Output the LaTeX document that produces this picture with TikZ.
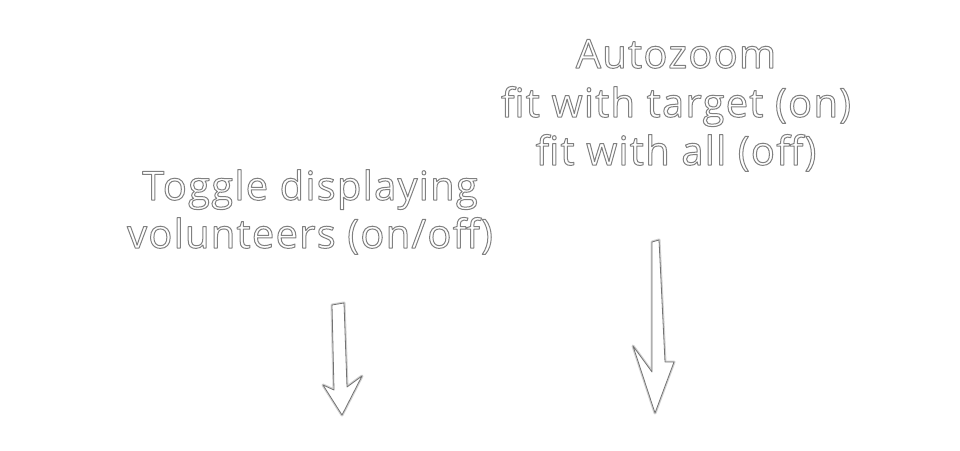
\documentclass[tikz,border=0pt]{standalone}
\usepackage{fontspec}
\setmainfont{Open Sans}[LetterSpace=3]
\newcommand\outl[1]{{\color{white}\special{pdf:literal direct 0.5 G 1.0 w 1 j 2 Tr}#1\special{pdf:literal direct 0 Tr}}}
\tikzset{
  lbl/.style={anchor=base, inner sep=0pt, font=\fontsize{40}{46}\selectfont},
  arrowshape/.style={draw=black!55, line width=0.8pt, fill=white, line join=round},
  arrowshadow/.style={draw=black!18, line width=3pt, line join=round}
}
\begin{document}
\begin{tikzpicture}[x=1pt,y=-1pt]
\useasboundingbox (0,0) rectangle (960,450);
% left text
\node[lbl] (t1) at (310,200) {\outl{Toggle displaying}};
\node[lbl] (t2) at (310,248) {\outl{volunteers (on/off)}};
% right text
\node[lbl] (a1) at (676,68) {\outl{Autozoom}};
\node[lbl] (a2) at (676,117) {\outl{fit with target (on)}};
\node[lbl] (a3) at (676,165) {\outl{fit with all (off)}};
% left arrow
\coordinate (l1) at (332,305);
\coordinate (l2) at (344,303);
\coordinate (l3) at (347,387);
\coordinate (l4) at (362,376);
\coordinate (l5) at (342,415);
\coordinate (l6) at (323,385);
\coordinate (l7) at (334,390);
\draw[arrowshadow, shift={(1.5,2)}] (l1) -- (l2) -- (l3) -- (l4) -- (l5) -- (l6) -- (l7) -- cycle;
\draw[arrowshape] (l1) -- (l2) -- (l3) -- (l4) -- (l5) -- (l6) -- (l7) -- cycle;
% right arrow
\coordinate (r1) at (652,242);
\coordinate (r2) at (659,240);
\coordinate (r3) at (665,362);
\coordinate (r4) at (674,362);
\coordinate (r5) at (655,413);
\coordinate (r6) at (633,346);
\coordinate (r7) at (652,372);
\draw[arrowshadow, shift={(1.5,2)}] (r1) -- (r2) -- (r3) -- (r4) -- (r5) -- (r6) -- (r7) -- cycle;
\draw[arrowshape] (r1) -- (r2) -- (r3) -- (r4) -- (r5) -- (r6) -- (r7) -- cycle;
\end{tikzpicture}
\end{document}
